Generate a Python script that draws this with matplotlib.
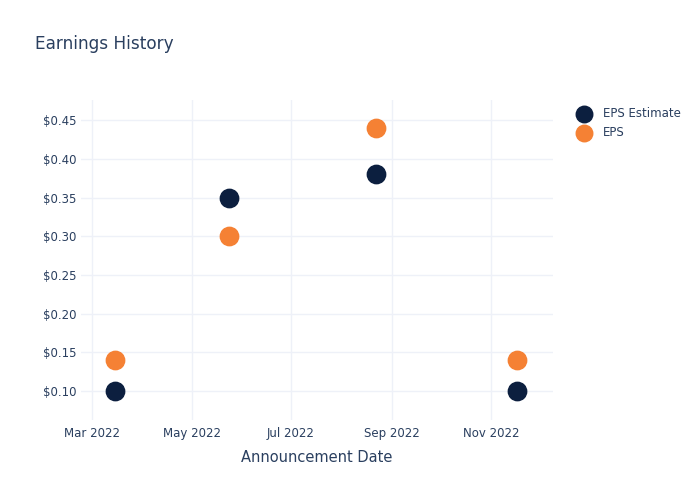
import numpy as np
import matplotlib.pyplot as plt
import matplotlib.dates as mdates
from datetime import datetime

# earnings data
dates = [datetime(2022, 3, 15), datetime(2022, 5, 24), datetime(2022, 8, 22), datetime(2022, 11, 17)]
eps_estimate = [0.10, 0.35, 0.38, 0.10]
eps_actual = [0.14, 0.30, 0.44, 0.14]

txt = '#2a3f5f'
fig = plt.figure(figsize=(7, 5), dpi=100)
ax = fig.add_axes([0.1157, 0.16, 0.6743, 0.64])

ax.scatter(dates, eps_estimate, s=175, c='#0c1f3f', label='EPS Estimate', zorder=3)
ax.scatter(dates, eps_actual, s=175, c='#f58134', label='EPS', zorder=3)

ax.set_xlim(datetime(2022, 2, 22), datetime(2022, 12, 9))
ax.set_ylim(0.0625, 0.476)
ax.set_yticks(np.arange(0.10, 0.451, 0.05))
ax.yaxis.set_major_formatter(plt.FuncFormatter(lambda v, p: f'${v:.2f}'))
ax.xaxis.set_major_locator(mdates.MonthLocator(bymonth=[3, 5, 7, 9, 11]))
ax.xaxis.set_major_formatter(mdates.DateFormatter('%b %Y'))

ax.grid(True, color='#eef1f8', linewidth=1)
ax.set_axisbelow(True)
for s in ax.spines.values():
    s.set_visible(False)
ax.tick_params(length=0, labelsize=8.5, labelcolor=txt)
ax.tick_params(axis='y', pad=3)
ax.tick_params(axis='x', pad=5)
ax.set_xlabel('Announcement Date', fontsize=10.5, color=txt, labelpad=7)

fig.text(35 / 700, 1 - 44 / 500, 'Earnings History', fontsize=12.2, color=txt, va='center')

leg = ax.legend(loc='upper left', bbox_to_anchor=(1.03, 0.993), frameon=False,
                fontsize=8.5, labelcolor=txt, handletextpad=0.6, borderaxespad=0,
                labelspacing=0.5, markerscale=0.9)

plt.savefig('out.png')
